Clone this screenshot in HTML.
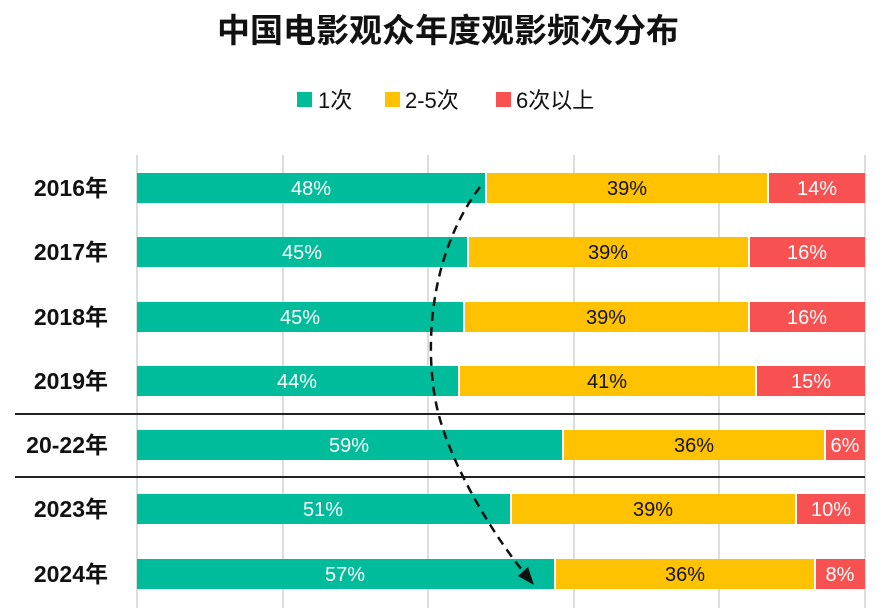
<!DOCTYPE html>
<html><head><meta charset="utf-8"><style>
body{margin:0;background:#fff;}
svg text{font-family:"Liberation Sans","Noto Sans CJK SC",sans-serif;}
</style></head><body>
<svg width="896" height="608" viewBox="0 0 896 608" xmlns="http://www.w3.org/2000/svg">
<text x="448" y="42" text-anchor="middle" font-size="33" font-weight="bold" fill="#111">中国电影观众年度观影频次分布</text>
<g font-size="22" fill="#111">
<rect x="297" y="92" width="15" height="15" fill="#00BC9A"/><text x="318" y="108">1次</text>
<rect x="385" y="92" width="15" height="15" fill="#FFC200"/><text x="405" y="108">2-5次</text>
<rect x="496" y="92" width="15" height="15" fill="#F85151"/><text x="516" y="108">6次以上</text>
</g>
<g stroke="#ddd" stroke-width="2">
<line x1="137" y1="155" x2="137" y2="608"/><line x1="283" y1="155" x2="283" y2="608"/><line x1="428" y1="155" x2="428" y2="608"/><line x1="574" y1="155" x2="574" y2="608"/><line x1="719" y1="155" x2="719" y2="608"/><line x1="865" y1="155" x2="865" y2="608"/>
</g>
<g stroke="#222" stroke-width="2"><line x1="15" y1="414" x2="865" y2="414"/><line x1="15" y1="477" x2="865" y2="477"/></g>
<g font-size="20" text-anchor="middle">
<g><rect x="137" y="173" width="348" height="30" fill="#00BC9A"/><rect x="487" y="173" width="280" height="30" fill="#FFC200"/><rect x="769" y="173" width="96" height="30" fill="#F85151"/>
<text x="311" y="195" fill="#fff">48%</text><text x="627" y="195" fill="#111">39%</text><text x="817" y="195" fill="#fff">14%</text></g>
<g><rect x="137" y="237" width="330" height="30" fill="#00BC9A"/><rect x="469" y="237" width="279" height="30" fill="#FFC200"/><rect x="750" y="237" width="115" height="30" fill="#F85151"/>
<text x="302" y="259" fill="#fff">45%</text><text x="608" y="259" fill="#111">39%</text><text x="807" y="259" fill="#fff">16%</text></g>
<g><rect x="137" y="302" width="326" height="30" fill="#00BC9A"/><rect x="465" y="302" width="283" height="30" fill="#FFC200"/><rect x="750" y="302" width="115" height="30" fill="#F85151"/>
<text x="300" y="324" fill="#fff">45%</text><text x="606" y="324" fill="#111">39%</text><text x="807" y="324" fill="#fff">16%</text></g>
<g><rect x="137" y="366" width="321" height="30" fill="#00BC9A"/><rect x="460" y="366" width="295" height="30" fill="#FFC200"/><rect x="757" y="366" width="108" height="30" fill="#F85151"/>
<text x="297" y="388" fill="#fff">44%</text><text x="607" y="388" fill="#111">41%</text><text x="811" y="388" fill="#fff">15%</text></g>
<g><rect x="137" y="430" width="425" height="30" fill="#00BC9A"/><rect x="564" y="430" width="260" height="30" fill="#FFC200"/><rect x="826" y="430" width="39" height="30" fill="#F85151"/>
<text x="349" y="452" fill="#fff">59%</text><text x="694" y="452" fill="#111">36%</text><text x="845" y="452" fill="#fff">6%</text></g>
<g><rect x="137" y="494" width="373" height="30" fill="#00BC9A"/><rect x="512" y="494" width="283" height="30" fill="#FFC200"/><rect x="797" y="494" width="68" height="30" fill="#F85151"/>
<text x="323" y="516" fill="#fff">51%</text><text x="653" y="516" fill="#111">39%</text><text x="831" y="516" fill="#fff">10%</text></g>
<g><rect x="137" y="559" width="417" height="30" fill="#00BC9A"/><rect x="556" y="559" width="258" height="30" fill="#FFC200"/><rect x="816" y="559" width="49" height="30" fill="#F85151"/>
<text x="345" y="581" fill="#fff">57%</text><text x="685" y="581" fill="#111">36%</text><text x="840" y="581" fill="#fff">8%</text></g>
</g>
<g font-size="23" font-weight="bold" text-anchor="end" fill="#111">
<text x="108" y="196">2016年</text><text x="108" y="260">2017年</text><text x="108" y="325">2018年</text><text x="108" y="389">2019年</text><text x="108" y="453">20-22年</text><text x="108" y="517">2023年</text><text x="108" y="582">2024年</text>
</g>
<path d="M480,187 C 425,260 425,360 438,412 S 490,530 522,570" fill="none" stroke="#111" stroke-width="2.5" stroke-dasharray="9,6"/>
<polygon points="534,585 518,576 528,567" fill="#111"/>
</svg>
</body></html>
